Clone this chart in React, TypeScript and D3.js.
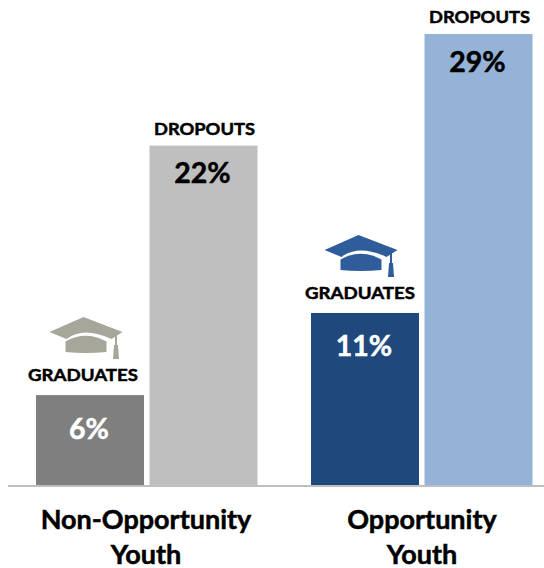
import React from "react";
import * as d3 from "d3";

const groups = ["Non-Opportunity Youth", "Opportunity Youth"];
const groupLines = [["Non-Opportunity", "Youth"], ["Opportunity", "Youth"]];
const series = ["GRADUATES", "DROPOUTS"];
const graduates = [5.8, 11.1];
const dropouts = [21.9, 29.1];
const graduateLabels = ["6%", "11%"];
const dropoutLabels = ["22%", "29%"];
const graduateColors = ["#7F7F7F", "#1F497D"];
const dropoutColors = ["#BFBFBF", "#95B3D7"];
const capColors = ["#A6A69B", "#2F5D9B"];
const valueColors = { GRADUATES: "#FFFFFF", DROPOUTS: "#000000" };

const W = 544;
const H = 568;
const baseY = 485;
const FONT = "Lato, Carlito, Calibri, sans-serif";

const Cap = ({ x, y, fill }: { x: number; y: number; fill: string }) => (
  <g transform={`translate(${x},${y})`} fill={fill}>
    <path d="M34,0 L73,15 L62,22 Q34,9 17,22 L0,15 Z" />
    <path d="M16,24.5 Q36,13 57,24.5 L57,35 Q36,37 16,35 Z" />
    <rect x={65.5} y={18} width={2} height={12} />
    <path d="M64.5,28 L68.5,28 L69.5,42 L63.5,42 Z" />
  </g>
);

const heavy = (stroke: string) => ({ stroke, strokeWidth: 0.5, paintOrder: "stroke" as const });

export default function App() {
  const y = d3.scaleLinear().domain([0, 29.1]).range([baseY, 34]);
  const x0 = d3.scaleBand().domain(groups).range([8.5, 559.5]);
  const groupOffset = [27.5, 27];
  const gradShift = [-7, -5];
  const catCenter = [146, 422];
  const barW = 108;
  const gap = 5.5;

  return (
    <svg width={W} height={H} style={{ position: "absolute", left: 0, top: 0 }} fontFamily={FONT} fontWeight={700} textAnchor="middle">
      {groups.map((g, i) => {
        const xA = (x0(g) as number) + groupOffset[i];
        const xB = xA + barW + gap;
        const topA = y(graduates[i]);
        const topB = y(dropouts[i]);
        return (
          <g key={g}>
            <rect x={xA} y={topA} width={barW} height={baseY - topA} fill={graduateColors[i]} />
            <rect x={xB} y={topB} width={barW} height={baseY - topB} fill={dropoutColors[i]} />
            <Cap x={xA + 13.5} y={topA - 78} fill={capColors[i]} />
            <text x={xA + barW / 2 + gradShift[i]} y={topA - 14} fontSize={17.5} fill="#000" textLength={110} lengthAdjust="spacingAndGlyphs" {...heavy("#000")}>{series[0]}</text>
            <text x={xB + barW / 2 + 1} y={topB - 11} fontSize={17.5} fill="#000" textLength={101} lengthAdjust="spacingAndGlyphs" {...heavy("#000")}>{series[1]}</text>
            <text x={xA + barW / 2 - 1} y={topA + 43.5} fontSize={28.5} fill={valueColors.GRADUATES} {...heavy("#FFF")}>{graduateLabels[i]}</text>
            <text x={xB + barW / 2 - 1} y={topB + 37.5} fontSize={28.5} fill={valueColors.DROPOUTS} {...heavy("#000")}>{dropoutLabels[i]}</text>
            {groupLines[i].map((line, k) => (
              <text key={k} x={catCenter[i]} y={529 + k * 34.5} fontSize={27} fill="#000" {...heavy("#000")}>{line}</text>
            ))}
          </g>
        );
      })}
      <line x1={8} x2={W} y1={baseY + 1} y2={baseY + 1} stroke="#BFBFBF" strokeWidth={2} />
    </svg>
  );
}
